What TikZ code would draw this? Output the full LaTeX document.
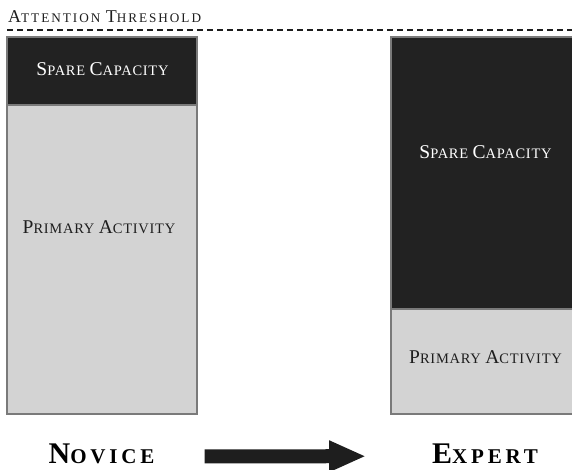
\documentclass[tikz,border=0pt]{standalone}
\usepackage{fontspec}
\setmainfont{Liberation Serif}
\newfontfamily\labelfont{Liberation Serif}[LetterSpace=5]
\newfontfamily\headfont{Liberation Serif}[LetterSpace=15]
\newfontfamily\stagefont{Liberation Serif}[LetterSpace=18]
\usetikzlibrary{arrows.meta}
\definecolor{barline}{HTML}{7A7A7A}
\definecolor{sparefill}{HTML}{222222}
\definecolor{primaryfill}{HTML}{D3D3D3}
\definecolor{ink}{HTML}{1E1E1E}
% hand-made small caps: first argument at full size, second at reduced size
\newcommand\capsA{19.5pt}
\newcommand\capsB{14.5pt}
\newcommand\hsc[2]{{\fontsize{\capsA}{\capsA}\selectfont #1}{\fontsize{\capsB}{\capsB}\selectfont #2}}
\begin{document}
\begin{tikzpicture}[x=1pt,y=-1pt,
  barframe/.style={draw=barline,line width=1.2pt},
  lbl/.style={inner sep=0pt,anchor=base,text=ink,font=\labelfont},
  lightlbl/.style={inner sep=0pt,anchor=base,text=white,font=\labelfont},
  stage/.style={inner sep=0pt,anchor=base,text=black,font=\stagefont\bfseries},
  threshold/.style={draw=ink,line width=1.5pt,dash pattern=on 6pt off 4pt},
  bigarrow/.style={draw=ink,line width=14pt,-{Triangle[length=37pt,width=29pt]}}]
\useasboundingbox (0,0) rectangle (572,469);
\clip (0,0) rectangle (572,469);
\fill[white] (0,0) rectangle (572,469);

% attention threshold
\draw[threshold] (7,30) -- (572,30);
\node[lbl,font=\headfont,anchor=base west] (thr) at (8,22)
  {\renewcommand\capsA{18pt}\renewcommand\capsB{13.2pt}\hsc{A}{TTENTION}\hspace{1.5pt} \hsc{T}{HRESHOLD}};

% novice bar
\fill[sparefill] (7,37) rectangle (197,105);
\fill[primaryfill] (7,105) rectangle (197,414);
\draw[barframe] (7,105) -- (197,105);
\draw[barframe] (7,37) rectangle (197,414);
\node[lightlbl] (nspare) at (102.5,75) {\hsc{S}{PARE}\hspace{1.5pt} \hsc{C}{APACITY}};
\node[lbl] (nprim) at (99,233) {\hsc{P}{RIMARY}\hspace{1.5pt} \hsc{A}{CTIVITY}};

% expert bar
\fill[sparefill] (391,37) rectangle (580,309);
\fill[primaryfill] (391,309) rectangle (580,414);
\draw[barframe] (391,309) -- (580,309);
\draw[barframe] (391,37) rectangle (580,414);
\node[lightlbl] (espare) at (485.5,158) {\hsc{S}{PARE}\hspace{1.5pt} \hsc{C}{APACITY}};
\node[lbl] (eprim) at (485.5,363) {\hsc{P}{RIMARY}\hspace{1.5pt} \hsc{A}{CTIVITY}};

% stages
\node[stage] (novice) at (101.5,463)
  {\renewcommand\capsA{30pt}\renewcommand\capsB{21pt}\hsc{N}{OVICE}};
\node[stage] (expert) at (485,463)
  {\renewcommand\capsA{30pt}\renewcommand\capsB{21pt}\hsc{E}{XPERT}};
\draw[bigarrow,shorten <=50pt,shorten >=66pt]
  ([yshift=-3pt]novice.east) -- ([yshift=-3pt]expert.west);
\end{tikzpicture}
\end{document}
